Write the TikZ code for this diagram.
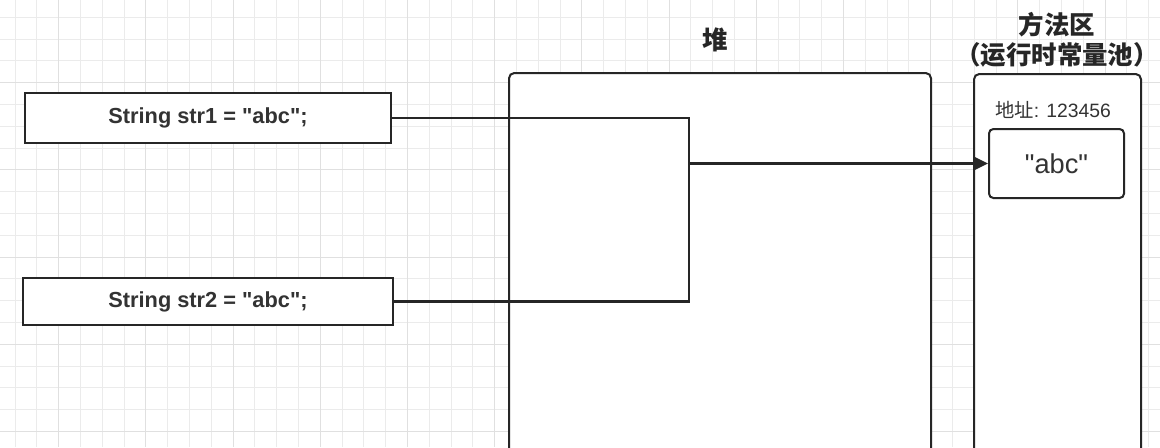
\documentclass[tikz,border=0pt]{standalone}
\usepackage{fontspec}
\setmainfont{Liberation Sans}
\newfontfamily\cjk{Noto Sans CJK SC}
\usetikzlibrary{arrows.meta}
\newcommand\pxl{0.02cm}
\newcommand\dq{\textquotedbl}
\tikzset{
  gridline/.style={draw=black!8, line width=0.4pt},
  gridmajor/.style={draw=black!12, line width=0.5pt},
  codebox/.style={draw=black!85, line width=1.15pt, fill=white, inner sep=0pt,
    anchor=north west, text=black!80, font=\bfseries\fontsize{12.4}{14}\selectfont},
  area/.style={draw=black!85, line width=1.15pt, fill=white, rounded corners=3pt,
    anchor=north west, inner sep=0pt},
  title/.style={text=black!85, font=\cjk\bfseries\fontsize{14.5}{17}\selectfont, align=center},
  wire/.style={draw=black!85, line width=1.4pt},
}
\begin{document}
\begin{tikzpicture}[x=\pxl, y=-\pxl]
  \useasboundingbox (0,0) rectangle (1160,447);
  \clip (0,0) rectangle (1160,447);
  % background grid
  \foreach \k in {0,...,52} \draw[gridline] (15+21.8*\k,0) -- (15+21.8*\k,447);
  \foreach \k in {0,...,20} \draw[gridline] (0,17.2+21.8*\k) -- (1160,17.2+21.8*\k);
  \foreach \k in {2,6,...,50} \draw[gridmajor] (15+21.8*\k,0) -- (15+21.8*\k,447);
  \foreach \k in {3,7,...,19} \draw[gridmajor] (0,17.2+21.8*\k) -- (1160,17.2+21.8*\k);

  \node[codebox, minimum width=366*\pxl, minimum height=50*\pxl] (str1) at (24,92) {String str1 = \dq abc\dq;};
  \node[codebox, minimum width=370*\pxl, minimum height=47*\pxl] (str2) at (22,277) {String str2 = \dq abc\dq;};

  \node[area, minimum width=422*\pxl, minimum height=420*\pxl] (heap) at (508,72) {};
  \node[title] (heaplbl) at (715,40) {堆};

  \node[area, minimum width=167*\pxl, minimum height=420*\pxl] (method) at (973,73) {};
  \node[title] (methodlbl) at (1057,40) {方法区\\（运行时常量池）};
  \node[text=black!80, font=\fontsize{11}{13}\selectfont] (addr) at (1053,110) {{\cjk 地址}: 123456};
  \node[area, rounded corners=2.5pt, minimum width=135*\pxl, minimum height=69*\pxl,
    text=black!80, font=\fontsize{15.5}{17}\selectfont] (abc) at (988,128) {\dq abc\dq};

  \path (abc.west) ++(-299,0) coordinate (join);
  \draw[wire] (str1.east) -| (join);
  \draw[wire] (str2.east) -| (join);
  \draw[wire, -{Triangle[length=8pt,width=7.5pt]}] (join) -- (abc.west);
\end{tikzpicture}
\end{document}
